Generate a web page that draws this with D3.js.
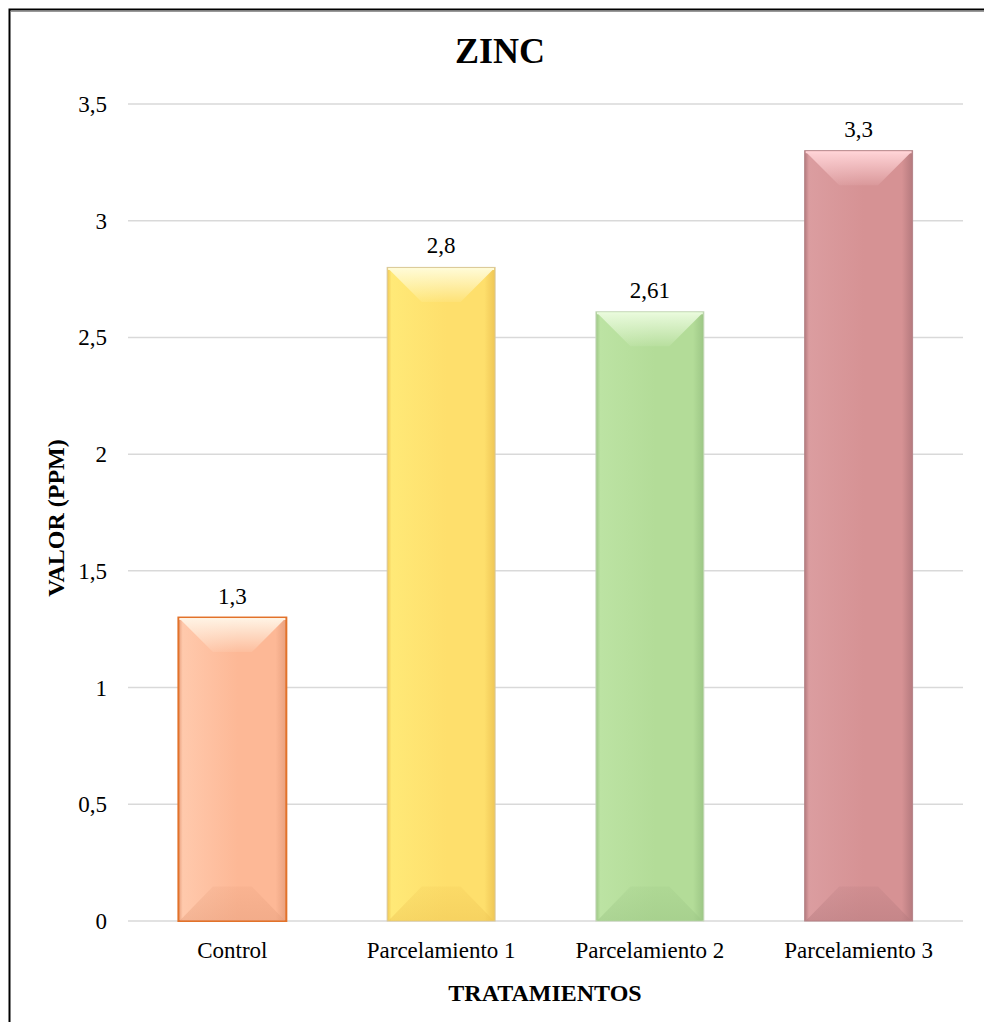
<!DOCTYPE html>
<html>
<head>
<meta charset="utf-8">
<script src="https://cdn.jsdelivr.net/npm/d3@7"></script>
<style>
  html, body { margin: 0; padding: 0; background: #fff; }
  svg { display: block; }
  text { font-family: "Liberation Serif", "Times New Roman", serif; fill: #000; }
</style>
</head>
<body>
<div id="chart"></div>
<script>
// Zinc content by treatment (ppm)
const categories = ["Control", "Parcelamiento 1", "Parcelamiento 2", "Parcelamiento 3"];
const values = [1.3, 2.8, 2.61, 3.3];
const valueLabels = ["1,3", "2,8", "2,61", "3,3"];
const yTicks = [0, 0.5, 1, 1.5, 2, 2.5, 3, 3.5];
const yTickLabels = ["0", "0,5", "1", "1,5", "2", "2,5", "3", "3,5"];

// bar palettes: light face, darker right side, edge stroke
const palette = [
  { light: "#FFC9AC", mid: "#FDB896", dark: "#E8A07E", edge: "#E2722A", top: "#FFF3E4" },
  { light: "#FFE977", mid: "#FEDF6C", dark: "#EFC655", edge: "#D9C89A", top: "#FFFBD6" },
  { light: "#BCE3A3", mid: "#B3DC98", dark: "#9CC685", edge: "#C7D8BC", top: "#E9FADC" },
  { light: "#DB9DA0", mid: "#D69294", dark: "#B57A7E", edge: "#B58488", top: "#FFD3D6" }
];

const W = 984, H = 1022;
const svg = d3.select("#chart").append("svg").attr("width", W).attr("height", H);
const defs = svg.append("defs");

// chart frame
svg.append("rect")
  .attr("x", 9.5).attr("y", 9.5).attr("width", 1100).attr("height", 1100)
  .attr("fill", "none").attr("stroke", "#000").attr("stroke-width", 2);
svg.append("line").attr("x1", 11).attr("x2", W).attr("y1", 11.5).attr("y2", 11.5)
  .attr("stroke", "#999").attr("stroke-width", 1);

const x = d3.scaleBand().domain(categories).range([128, 963])
  .paddingInner(0.483).paddingOuter(0.2415);
const y = d3.scaleLinear().domain([0, 3.5]).range([921, 104]);

// gridlines
svg.append("g").selectAll("line").data(yTicks).join("line")
  .attr("x1", 128).attr("x2", 963)
  .attr("y1", d => y(d)).attr("y2", d => y(d))
  .attr("stroke", "#d9d9d9").attr("stroke-width", 1.5);

// y tick labels
svg.append("g").selectAll("text").data(yTicks).join("text")
  .attr("x", 107).attr("y", d => y(d)).attr("dy", "0.35em")
  .attr("text-anchor", "end").attr("font-size", 23)
  .text((d, i) => yTickLabels[i]);

// gradients per bar
palette.forEach((p, i) => {
  const g = defs.append("linearGradient").attr("id", "face" + i)
    .attr("x1", "0%").attr("x2", "100%").attr("y1", "0%").attr("y2", "0%");
  g.append("stop").attr("offset", "0%").attr("stop-color", p.dark);
  g.append("stop").attr("offset", "4%").attr("stop-color", p.light);
  g.append("stop").attr("offset", "55%").attr("stop-color", p.mid);
  g.append("stop").attr("offset", "90%").attr("stop-color", p.mid);
  g.append("stop").attr("offset", "100%").attr("stop-color", p.dark);

  const t = defs.append("linearGradient").attr("id", "top" + i)
    .attr("x1", "0%").attr("x2", "0%").attr("y1", "0%").attr("y2", "100%");
  t.append("stop").attr("offset", "0%").attr("stop-color", p.top).attr("stop-opacity", 1);
  t.append("stop").attr("offset", "100%").attr("stop-color", p.top).attr("stop-opacity", 0.1);

  const b = defs.append("linearGradient").attr("id", "bot" + i)
    .attr("x1", "0%").attr("x2", "0%").attr("y1", "0%").attr("y2", "100%");
  b.append("stop").attr("offset", "0%").attr("stop-color", p.dark).attr("stop-opacity", 0.2);
  b.append("stop").attr("offset", "100%").attr("stop-color", p.dark).attr("stop-opacity", 0.5);
});

const bw = x.bandwidth();
const bevel = bw * 0.32;

const bars = svg.append("g").selectAll("g").data(categories).join("g");

bars.append("rect")
  .attr("x", d => x(d)).attr("y", (d, i) => y(values[i]))
  .attr("width", bw).attr("height", (d, i) => y(0) - y(values[i]))
  .attr("fill", (d, i) => `url(#face${i})`)
  .attr("stroke", (d, i) => palette[i].edge).attr("stroke-width", (d, i) => i === 0 ? 2 : 1);

// top bevel
bars.append("polygon")
  .attr("points", (d, i) => {
    const x0 = x(d), x1 = x(d) + bw, yt = y(values[i]);
    const b = Math.min(bevel, (y(0) - yt) / 2);
    return [[x0 + 1, yt + 1], [x1 - 1, yt + 1], [x1 - b, yt + b], [x0 + b, yt + b]].join(" ");
  })
  .attr("fill", (d, i) => `url(#top${i})`);

// bottom bevel
bars.append("polygon")
  .attr("points", (d, i) => {
    const x0 = x(d), x1 = x(d) + bw, yb = y(0), yt = y(values[i]);
    const b = Math.min(bevel, (yb - yt) / 2);
    return [[x0 + 1, yb], [x1 - 1, yb], [x1 - b, yb - b], [x0 + b, yb - b]].join(" ");
  })
  .attr("fill", (d, i) => `url(#bot${i})`);

// thin top highlight line
bars.append("line")
  .attr("x1", d => x(d) + 1).attr("x2", d => x(d) + bw - 1)
  .attr("y1", (d, i) => y(values[i]) + 1.5).attr("y2", (d, i) => y(values[i]) + 1.5)
  .attr("stroke", (d, i) => palette[i].top).attr("stroke-width", 2);

// value labels
bars.append("text")
  .attr("x", d => x(d) + bw / 2).attr("y", (d, i) => y(values[i]) - 14)
  .attr("text-anchor", "middle").attr("font-size", 23)
  .text((d, i) => valueLabels[i]);

// category labels
svg.append("g").selectAll("text").data(categories).join("text")
  .attr("x", d => x(d) + bw / 2).attr("y", 958)
  .attr("text-anchor", "middle").attr("font-size", 23)
  .text(d => d);

// titles
svg.append("text").attr("x", 500).attr("y", 63)
  .attr("text-anchor", "middle").attr("font-size", 36).attr("font-weight", "bold")
  .text("ZINC");

svg.append("text").attr("x", 545).attr("y", 1001)
  .attr("text-anchor", "middle").attr("font-size", 24).attr("font-weight", "bold")
  .text("TRATAMIENTOS");

svg.append("text")
  .attr("transform", "translate(64,518) rotate(-90)")
  .attr("text-anchor", "middle").attr("font-size", 24).attr("font-weight", "bold")
  .text("VALOR (PPM)");
</script>
</body>
</html>
